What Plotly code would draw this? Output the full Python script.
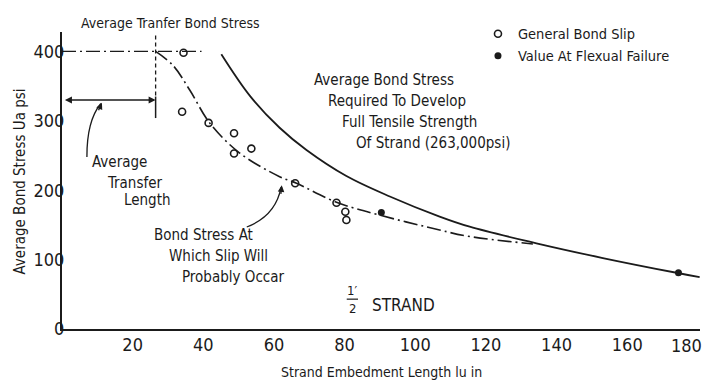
import plotly.graph_objects as go

# ---- data -----------------------------------------------------------------
# General bond slip observations (open circles)
slip_len = [34.4, 34.0, 41.5, 48.7, 48.7, 53.6, 66.0, 77.7, 80.2, 80.5]
slip_stress = [398, 313, 297, 282, 253, 260, 210, 182, 169, 157]

# Values at flexural failure (filled dots)
fail_len = [90.4, 174.5]
fail_stress = [168, 81]

# Average bond stress required to develop full tensile strength of strand
req_len = [45.1, 53.2, 61.6, 69.2, 80.5, 92.8, 106.9, 115.4, 134.3, 153.1, 174.3, 180.5]
req_stress = [396, 336, 290, 258, 220.5, 191, 162, 147.4, 123.5, 102.3, 80.7, 74.9]

# Bond stress at which slip will probably occur
prob_len = [26.5, 31.4, 36.2, 41.8, 50.3, 61.6, 66.4, 77.7, 90.0, 106.9, 114.5, 133.3]
prob_stress = [400, 380, 344, 297, 253.6, 219.5, 210, 182.7, 164, 142.7, 134, 122.5]

# Average transfer length (in) and average transfer bond stress (psi)
TRANSFER_LENGTH = 26.5
TRANSFER_STRESS = 400

x_ticks = [20, 40, 60, 80, 100, 120, 140, 160, 180]
y_ticks = [0, 100, 200, 300, 400]

# ---- styling ----------------------------------------------------------------
FONT = "Liberation Sans Narrow, DejaVu Sans Condensed, Arial Narrow, sans-serif"
INK = "#1b1b1b"
DASHDOT = "14px,4px,2px,4px"
X_TICK_SIZE = 18

# the last tick label sits flush against the end of the axis
x_tick_text = [str(v) for v in x_ticks[:-1]] + [""]

fig = go.Figure()

fig.add_trace(go.Scatter(
    x=req_len, y=req_stress, mode="lines", line=dict(color=INK, width=1.8, shape="spline"),
    showlegend=False, hoverinfo="skip"))
fig.add_trace(go.Scatter(
    x=prob_len, y=prob_stress, mode="lines",
    line=dict(color=INK, width=1.6, shape="spline", dash=DASHDOT),
    showlegend=False, hoverinfo="skip"))

# transfer bond stress level and transfer length marker
fig.add_trace(go.Scatter(
    x=[0, 39.5], y=[TRANSFER_STRESS, TRANSFER_STRESS], mode="lines",
    line=dict(color=INK, width=1.3, dash=DASHDOT), showlegend=False, hoverinfo="skip"))
fig.add_trace(go.Scatter(
    x=[TRANSFER_LENGTH, TRANSFER_LENGTH], y=[423, 335], mode="lines",
    line=dict(color=INK, width=1.3, dash="4px,3px"), showlegend=False, hoverinfo="skip"))
fig.add_trace(go.Scatter(
    x=[TRANSFER_LENGTH, TRANSFER_LENGTH], y=[335, 304], mode="lines",
    line=dict(color=INK, width=1.5), showlegend=False, hoverinfo="skip"))

fig.add_trace(go.Scatter(
    x=slip_len, y=slip_stress, mode="markers", name="General Bond Slip",
    marker=dict(symbol="circle-open", size=7, color=INK, line=dict(width=1.6))))
fig.add_trace(go.Scatter(
    x=fail_len, y=fail_stress, mode="markers", name="Value At Flexual Failure",
    marker=dict(symbol="circle", size=7, color=INK)))


def label(text, x, y, size=15, xanchor="left", ref="", **kw):
    fig.add_annotation(text=text, x=x, y=y, xref="paper" if ref else "x",
                       yref="paper" if ref else "y", showarrow=False,
                       xanchor=xanchor, yanchor="middle",
                       font=dict(family=FONT, size=size, color=INK), **kw)


label("Average Tranfer Bond Stress", 0.0266, 1.031, size=14, ref="paper")

label("Average Bond Stress", 70.9, 359)
label("Required To Develop", 74.7, 329)
label("Full Tensile Strength", 78.6, 299)
label("Of Strand (263,000psi)", 82.6, 268)

label("Average", 7.9, 241)
label("Transfer", 12.1, 210)
label("Length", 16.9, 186)

label("Bond Stress At", 25.4, 135)
label("Which Slip Will", 29.6, 105)
label("Probably Occar", 33.4, 75)

label("1′", 82.2, 55, size=13, xanchor="center")
label("2", 82.2, 29, size=13, xanchor="center")
label("STRAND", 87.1, 35, size=17)

label("Strand Embedment Length lu in", 0.5, -0.145, size=14, xanchor="center", ref="paper")
label("Average Bond Stress Ua psi", -0.0666, 0.495, size=15, xanchor="center",
      ref="paper", textangle=-90)

# label of the last x tick, right-aligned to the axis end
fig.add_annotation(text=str(x_ticks[-1]), x=x_ticks[-1], xref="x", y=0, yref="paper",
                   xanchor="right", yanchor="top", xshift=6, yshift=-4, showarrow=False,
                   font=dict(family=FONT, size=X_TICK_SIZE, color=INK))

# fraction bar
fig.add_shape(type="line", x0=80.6, x1=83.8, y0=43, y1=43, xref="x", yref="y",
              line=dict(color=INK, width=1.2))

# double arrow spanning the transfer length
fig.add_annotation(x=TRANSFER_LENGTH, y=330, ax=0.4, ay=330, xref="x", yref="y",
                   axref="x", ayref="y", text="", showarrow=True, arrowside="end+start",
                   arrowhead=2, arrowsize=1, arrowwidth=1.4, arrowcolor=INK)

# curved leaders from the labels to the lines
fig.add_shape(type="path", path="M 7.05 248 Q 7.0 300 11.0 325", xref="x", yref="y",
              line=dict(color=INK, width=1.3))
fig.add_annotation(x=11.3, y=326, ax=-4, ay=9, xref="x", yref="y", text="", showarrow=True,
                   arrowhead=2, arrowsize=1, arrowwidth=1.3, arrowcolor=INK)
fig.add_shape(type="path", path="M 52.3 147 Q 60.5 163 62.0 204", xref="x", yref="y",
              line=dict(color=INK, width=1.3))
fig.add_annotation(x=62.2, y=207, ax=-1, ay=10, xref="x", yref="y", text="", showarrow=True,
                   arrowhead=2, arrowsize=1, arrowwidth=1.3, arrowcolor=INK)

fig.update_layout(
    width=706, height=383,
    margin=dict(l=62, r=6, t=32, b=54),
    paper_bgcolor="white", plot_bgcolor="white",
    font=dict(family=FONT, color=INK),
    legend=dict(x=0.652, y=1.0475, xanchor="left", yanchor="top",
                font=dict(family=FONT, size=14.5, color=INK),
                bgcolor="rgba(0,0,0,0)", itemwidth=30, tracegroupgap=0),
    xaxis=dict(range=[0, 180.6], tickvals=x_ticks, ticktext=x_tick_text, automargin=False,
               showgrid=False, zeroline=False,
               showline=True, linecolor=INK, linewidth=2, ticks="outside", ticklen=0,
               tickcolor="rgba(0,0,0,0)", ticklabelstandoff=-2,
               tickfont=dict(family=FONT, size=X_TICK_SIZE, color=INK)),
    yaxis=dict(range=[0, 428], tickvals=y_ticks, showgrid=False, zeroline=False,
               automargin=False,
               showline=True, linecolor=INK, linewidth=2, ticks="outside", ticklen=0,
               tickcolor="rgba(0,0,0,0)", ticklabelstandoff=-8,
               tickfont=dict(family=FONT, size=18, color=INK)),
)

fig.write_html("out.html")
